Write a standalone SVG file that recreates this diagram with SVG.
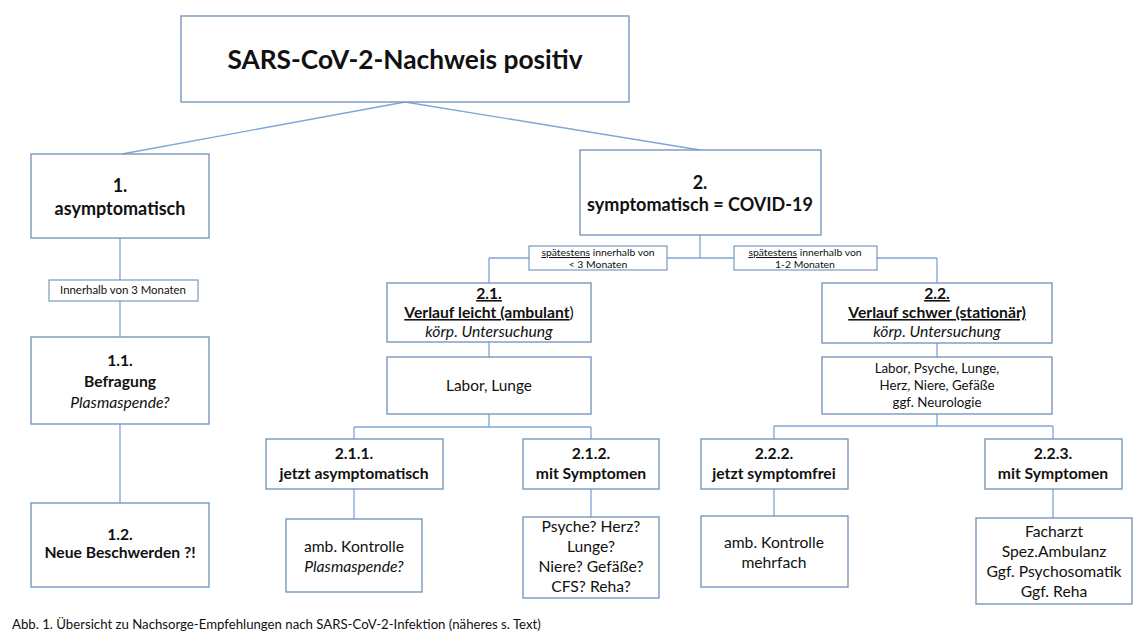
<svg xmlns="http://www.w3.org/2000/svg" width="1140" height="640" viewBox="0 0 1140 640">
<style>
.box{fill:#fff;stroke:#6f8fb8;stroke-width:1.3}
.lbl{fill:#fff;stroke:#6f8fb8;stroke-width:1.1}
.con{fill:none;stroke:#7ea6d6;stroke-width:1.3}
text{font-family:Lato,"Open Sans","Liberation Sans",sans-serif;fill:#111;text-anchor:middle}
.b{font-weight:bold}
.i{font-style:italic}
.u{text-decoration:underline}
.s15{font-size:15.7px}
.s14{font-size:15.4px}
.s17{font-size:18px}
.sm{font-size:10.4px}
</style>
<rect width="1140" height="640" fill="#fff"/>
<g id="connectors">
<path class="con" d="M405,102 L122,154 M405,102 L700,150"/>
<path class="con" d="M120,238 V337 M120,424 V503"/>
<path class="con" d="M700,235 V258 M489,258 H937 M489,258 V283 M937,258 V283"/>
<path class="con" d="M489,342 V357 M489,414 V427 M354,427 H591 M354,427 V439 M591,427 V439"/>
<path class="con" d="M937,342 V357 M937,414 V426 M774,426 H1053 M774,426 V439 M1053,426 V439"/>
<path class="con" d="M354,489 V519 M591,489 V517 M774,489 V516 M1053,489 V518"/>
</g>
<g id="root"><rect class="box" x="181" y="16" width="448" height="86"/><text class="b" x="405" y="69" font-size="26.3">SARS-CoV-2-Nachweis positiv</text></g>
<g id="n1"><rect class="box" x="31" y="154" width="178" height="84"/><text class="b s17" x="120" y="192">1.</text><text class="b s17" x="120" y="215">asymptomatisch</text></g>
<g id="l1"><rect class="lbl" x="49" y="280" width="149" height="21"/><text x="123" y="294" font-size="11.4">Innerhalb von 3 Monaten</text></g>
<g id="n11"><rect class="box" x="31" y="337" width="178" height="87"/><text class="b s15" x="120" y="366">1.1.</text><text class="b s15" x="120" y="387">Befragung</text><text class="i s15" x="120" y="408">Plasmaspende?</text></g>
<g id="n12"><rect class="box" x="31" y="503" width="178" height="84"/><text class="b s15" x="120" y="540">1.2.</text><text class="b s15" x="120" y="558">Neue Beschwerden ?!</text></g>
<g id="n2"><rect class="box" x="580" y="150" width="241" height="85"/><text class="b s17" x="700" y="189">2.</text><text class="b s17" x="700" y="211">symptomatisch = COVID-19</text></g>
<g id="l21"><rect class="lbl" x="529" y="246" width="138" height="24"/><text class="sm" x="598" y="256"><tspan class="u">spätestens</tspan> innerhalb von</text><text class="sm" x="598" y="268">&lt; 3 Monaten</text></g>
<g id="l22"><rect class="lbl" x="734" y="246" width="143" height="24"/><text class="sm" x="805" y="256"><tspan class="u">spätestens</tspan> innerhalb von</text><text class="sm" x="805" y="268">1-2 Monaten</text></g>
<g id="n21"><rect class="box" x="387" y="283" width="204" height="59"/><text class="b s15 u" x="489" y="299">2.1.</text><text class="b s15" x="489" y="318"><tspan class="u">Verlauf leicht (ambulant</tspan><tspan font-weight="normal">)</tspan></text><text class="i s15" x="489" y="337">körp. Untersuchung</text></g>
<g id="n21a"><rect class="box" x="387" y="357" width="204" height="57"/><text class="s14" x="489" y="391">Labor, Lunge</text></g>
<g id="n22"><rect class="box" x="822" y="283" width="230" height="60"/><text class="b s15 u" x="937" y="299">2.2.</text><text class="b s15 u" x="937" y="318">Verlauf schwer (stationär)</text><text class="i s15" x="937" y="337">körp. Untersuchung</text></g>
<g id="n22a"><rect class="box" x="822" y="357" width="230" height="57"/><text x="937" y="373" font-size="13.3">Labor, Psyche, Lunge,</text><text x="937" y="390" font-size="13.3">Herz, Niere, Gefäße</text><text x="937" y="407" font-size="13.3">ggf. Neurologie</text></g>
<g id="n211"><rect class="box" x="266" y="439" width="177" height="50"/><text class="b s15" x="354" y="459">2.1.1.</text><text class="b s15" x="354" y="479">jetzt asymptomatisch</text></g>
<g id="n211a"><rect class="box" x="286" y="519" width="136" height="73"/><text class="s15" x="354" y="552">amb. Kontrolle</text><text class="i s15" x="354" y="572">Plasmaspende?</text></g>
<g id="n212"><rect class="box" x="523" y="439" width="136" height="50"/><text class="b s15" x="591" y="459">2.1.2.</text><text class="b s15" x="591" y="479">mit Symptomen</text></g>
<g id="n212a"><rect class="box" x="523" y="517" width="136" height="81"/><text class="s15" x="591" y="532">Psyche? Herz?</text><text class="s15" x="591" y="552">Lunge?</text><text class="s15" x="591" y="572">Niere? Gefäße?</text><text class="s15" x="591" y="592">CFS? Reha?</text></g>
<g id="n222"><rect class="box" x="701" y="439" width="147" height="50"/><text class="b s15" x="774" y="459">2.2.2.</text><text class="b s15" x="774" y="479">jetzt symptomfrei</text></g>
<g id="n222a"><rect class="box" x="701" y="516" width="147" height="71"/><text class="s15" x="774" y="548">amb. Kontrolle</text><text class="s15" x="774" y="568">mehrfach</text></g>
<g id="n223"><rect class="box" x="985" y="439" width="137" height="50"/><text class="b s15" x="1053" y="459">2.2.3.</text><text class="b s15" x="1053" y="479">mit Symptomen</text></g>
<g id="n223a"><rect class="box" x="976" y="518" width="156" height="86"/><text class="s15" x="1054" y="537">Facharzt</text><text class="s15" x="1054" y="557">Spez.Ambulanz</text><text class="s15" x="1054" y="577">Ggf. Psychosomatik</text><text class="s15" x="1054" y="597">Ggf. Reha</text></g>
<text x="12" y="629" font-size="13.2" style="text-anchor:start">Abb. 1. Übersicht zu Nachsorge-Empfehlungen nach SARS-CoV-2-Infektion (näheres s. Text)</text>
</svg>
